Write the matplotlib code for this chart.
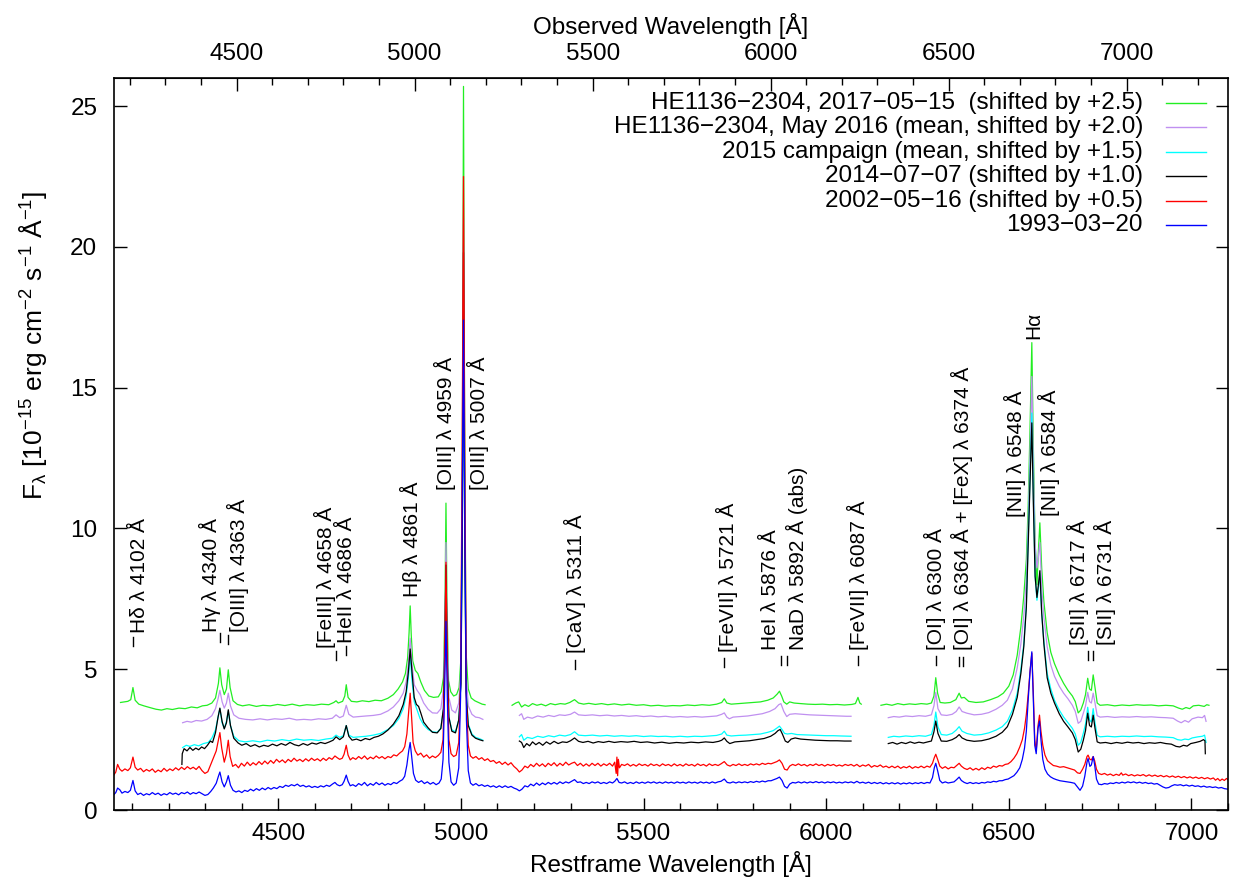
import numpy as np
import matplotlib
matplotlib.use("Agg")
import matplotlib.pyplot as plt
from matplotlib.ticker import MultipleLocator, FixedLocator

plt.rcParams['font.family'] = ['Liberation Sans', 'DejaVu Sans']
plt.rcParams['mathtext.fontset'] = 'custom'
plt.rcParams['mathtext.rm'] = 'Liberation Sans'
plt.rcParams['mathtext.it'] = 'Liberation Sans:italic'
plt.rcParams['mathtext.bf'] = 'Liberation Sans:bold'

# redshift of HE1136-2304, used for the observed-frame axis on top
z = 0.026

# spectra as (restframe wavelength [A], flux + offset) pairs, one list per continuous piece
green_a = [(4068, 3.82), (4078, 3.84), (4088, 3.86), (4096, 3.92), (4102, 4.35), (4108, 3.90), (4118, 3.76),
           (4132, 3.70), (4148, 3.64), (4165, 3.58), (4180, 3.55), (4195, 3.60), (4210, 3.57), (4228, 3.62),
           (4245, 3.60), (4262, 3.66), (4278, 3.63), (4292, 3.70), (4305, 3.72), (4318, 3.80), (4328, 3.98),
           (4336, 4.50), (4340, 5.05), (4345, 4.45), (4352, 4.10), (4358, 4.30), (4363, 4.98), (4368, 4.35),
           (4376, 3.88), (4388, 3.75), (4402, 3.70), (4420, 3.74), (4440, 3.68), (4458, 3.72), (4478, 3.70),
           (4498, 3.75), (4518, 3.71), (4538, 3.76), (4558, 3.70), (4578, 3.74), (4598, 3.72), (4618, 3.76),
           (4638, 3.74), (4652, 3.82), (4658, 3.88), (4664, 3.80), (4676, 3.86), (4682, 4.05), (4686, 4.45),
           (4691, 4.00), (4700, 3.86), (4715, 3.84), (4730, 3.88), (4748, 3.85), (4765, 3.90), (4782, 3.88),
           (4800, 3.97), (4815, 4.10), (4828, 4.30), (4840, 4.55), (4848, 4.85), (4854, 5.40), (4858, 6.30),
           (4861, 7.25), (4864, 6.20), (4868, 5.30), (4875, 4.96), (4882, 4.85), (4890, 4.55), (4900, 4.25),
           (4912, 4.05), (4925, 4.00), (4938, 4.02), (4946, 4.20), (4952, 4.70), (4956, 7.00), (4959, 10.9),
           (4962, 7.20), (4966, 4.60), (4972, 4.20), (4980, 4.05), (4988, 4.10), (4995, 4.35), (5000, 5.40),
           (5004, 12.5), (5007, 25.7), (5010, 14.0), (5014, 5.60), (5020, 4.30), (5028, 3.98), (5038, 3.88),
           (5048, 3.82), (5058, 3.76), (5066, 3.74)]
green_b = [(5140, 3.72), (5150, 3.80), (5158, 3.84), (5166, 3.66), (5175, 3.74), (5185, 3.68), (5196, 3.78),
           (5208, 3.72), (5220, 3.76), (5232, 3.70), (5245, 3.78), (5258, 3.74), (5272, 3.78), (5285, 3.76),
           (5298, 3.82), (5311, 3.92), (5322, 3.80), (5336, 3.76), (5350, 3.79), (5368, 3.75), (5385, 3.78),
           (5402, 3.74), (5420, 3.77), (5440, 3.73), (5460, 3.76), (5480, 3.72), (5500, 3.74), (5520, 3.70),
           (5540, 3.72), (5560, 3.69), (5580, 3.71), (5600, 3.70), (5620, 3.73), (5640, 3.71), (5660, 3.74),
           (5680, 3.72), (5700, 3.76), (5714, 3.82), (5721, 3.95), (5728, 3.80), (5740, 3.76), (5760, 3.78),
           (5780, 3.80), (5800, 3.82), (5820, 3.84), (5840, 3.90), (5855, 3.98), (5866, 4.12), (5872, 4.22),
           (5878, 4.05), (5884, 3.84), (5892, 3.76), (5900, 3.84), (5912, 3.80), (5930, 3.78), (5950, 3.76),
           (5970, 3.75), (5990, 3.76), (6010, 3.74), (6030, 3.75), (6050, 3.73), (6070, 3.75), (6080, 3.78),
           (6087, 4.00), (6092, 3.80), (6096, 3.76)]
green_c = [(6150, 3.72), (6165, 3.76), (6180, 3.72), (6196, 3.78), (6212, 3.74), (6228, 3.77), (6244, 3.75),
           (6260, 3.78), (6276, 3.76), (6288, 3.80), (6295, 4.05), (6300, 4.70), (6305, 4.15), (6312, 3.82),
           (6325, 3.80), (6340, 3.82), (6355, 3.92), (6364, 4.15), (6370, 3.98), (6378, 4.00), (6390, 3.86),
           (6410, 3.82), (6430, 3.84), (6450, 3.92), (6470, 4.02), (6485, 4.15), (6500, 4.40), (6512, 4.80),
           (6523, 5.50), (6533, 6.50), (6541, 7.60), (6548, 8.90), (6553, 10.8), (6558, 13.5), (6563, 16.6),
           (6567, 13.0), (6572, 9.50), (6577, 8.00), (6581, 9.20), (6585, 10.2), (6590, 8.60), (6596, 7.40),
           (6605, 6.30), (6615, 5.60), (6625, 5.20), (6638, 4.80), (6650, 4.50), (6662, 4.25), (6674, 4.05),
           (6682, 3.85), (6690, 3.45), (6697, 3.55), (6704, 3.80), (6710, 4.10), (6716, 4.68), (6721, 4.30),
           (6726, 4.25), (6731, 4.80), (6736, 4.35), (6742, 3.80), (6750, 3.72), (6770, 3.74), (6790, 3.70),
           (6810, 3.73), (6830, 3.71), (6850, 3.74), (6870, 3.72), (6890, 3.73), (6910, 3.70), (6930, 3.72),
           (6950, 3.70), (6965, 3.62), (6975, 3.58), (6985, 3.64), (6995, 3.60), (7005, 3.70), (7020, 3.72),
           (7035, 3.68), (7042, 3.74), (7048, 3.72)]

purple_a = [(4238, 3.10), (4250, 3.15), (4262, 3.12), (4275, 3.18), (4290, 3.16), (4305, 3.22), (4318, 3.35),
            (4328, 3.60), (4335, 3.95), (4340, 4.25), (4346, 3.85), (4352, 3.62), (4358, 3.80), (4363, 4.15),
            (4369, 3.70), (4378, 3.38), (4392, 3.26), (4410, 3.22), (4430, 3.20), (4450, 3.24), (4470, 3.20),
            (4490, 3.24), (4510, 3.22), (4530, 3.26), (4550, 3.20), (4570, 3.22), (4590, 3.20), (4610, 3.24),
            (4630, 3.22), (4648, 3.26), (4658, 3.38), (4668, 3.28), (4678, 3.34), (4686, 3.72), (4693, 3.40),
            (4705, 3.30), (4722, 3.32), (4740, 3.34), (4760, 3.36), (4780, 3.40), (4800, 3.52), (4815, 3.66),
            (4830, 3.88), (4842, 4.15), (4850, 4.55), (4856, 5.20), (4861, 6.10), (4866, 5.20), (4872, 4.45),
            (4880, 4.25), (4888, 4.10), (4898, 3.80), (4910, 3.58), (4922, 3.45), (4935, 3.44), (4945, 3.60),
            (4952, 4.30), (4956, 6.40), (4959, 9.50), (4962, 6.30), (4967, 4.00), (4975, 3.55), (4985, 3.45),
            (4994, 3.80), (5000, 5.00), (5004, 11.0), (5007, 21.0), (5010, 11.5), (5014, 4.90), (5020, 3.70),
            (5030, 3.40), (5040, 3.30), (5050, 3.28), (5060, 3.22)]
purple_b = [(5160, 3.36), (5166, 3.42), (5172, 3.22), (5182, 3.30), (5195, 3.26), (5210, 3.34), (5225, 3.30),
            (5240, 3.36), (5255, 3.32), (5270, 3.38), (5285, 3.36), (5300, 3.40), (5311, 3.48), (5322, 3.38),
            (5340, 3.36), (5360, 3.38), (5380, 3.35), (5400, 3.37), (5420, 3.34), (5440, 3.36), (5460, 3.33),
            (5480, 3.35), (5500, 3.32), (5520, 3.34), (5540, 3.31), (5560, 3.33), (5580, 3.30), (5600, 3.32),
            (5620, 3.30), (5640, 3.32), (5660, 3.30), (5680, 3.32), (5700, 3.34), (5714, 3.40), (5721, 3.45),
            (5728, 3.30), (5735, 3.24), (5745, 3.30), (5765, 3.32), (5785, 3.34), (5805, 3.38), (5825, 3.42),
            (5845, 3.50), (5860, 3.60), (5870, 3.74), (5876, 3.78), (5884, 3.50), (5892, 3.32), (5900, 3.40),
            (5915, 3.42), (5935, 3.40), (5955, 3.38), (5975, 3.37), (5995, 3.36), (6015, 3.35), (6035, 3.34),
            (6055, 3.33), (6068, 3.33)]
purple_c = [(6170, 3.28), (6185, 3.32), (6200, 3.30), (6218, 3.34), (6236, 3.32), (6254, 3.35), (6272, 3.33),
            (6288, 3.38), (6295, 3.70), (6300, 4.18), (6306, 3.60), (6315, 3.38), (6330, 3.36), (6345, 3.40),
            (6356, 3.50), (6364, 3.66), (6372, 3.50), (6385, 3.44), (6405, 3.38), (6425, 3.40), (6445, 3.46),
            (6465, 3.58), (6482, 3.72), (6496, 3.90), (6510, 4.30), (6523, 5.05), (6533, 5.90), (6541, 6.90),
            (6548, 8.20), (6553, 10.2), (6558, 12.6), (6563, 15.4), (6567, 12.3), (6572, 9.40), (6577, 8.60),
            (6581, 9.00), (6585, 9.50), (6590, 7.90), (6596, 6.85), (6605, 5.80), (6615, 5.15), (6625, 4.75),
            (6638, 4.40), (6650, 4.15), (6662, 3.95), (6674, 3.72), (6682, 3.50), (6690, 3.08), (6697, 3.15),
            (6704, 3.44), (6710, 3.70), (6716, 4.18), (6721, 3.85), (6726, 3.80), (6731, 4.15), (6736, 3.80),
            (6742, 3.35), (6750, 3.30), (6770, 3.32), (6790, 3.29), (6810, 3.31), (6830, 3.30), (6850, 3.32),
            (6870, 3.30), (6890, 3.31), (6910, 3.29), (6930, 3.28), (6950, 3.26), (6962, 3.16), (6972, 3.10),
            (6982, 3.18), (6992, 3.12), (7002, 3.24), (7018, 3.30), (7030, 3.28), (7036, 3.36), (7040, 3.15)]

cyan_a = [(4238, 2.22), (4248, 2.30), (4258, 2.26), (4270, 2.32), (4282, 2.28), (4295, 2.36), (4308, 2.40),
          (4318, 2.55), (4328, 2.85), (4335, 3.30), (4340, 3.60), (4346, 3.10), (4352, 2.90), (4358, 3.15),
          (4363, 3.50), (4369, 3.00), (4378, 2.62), (4392, 2.46), (4410, 2.42), (4430, 2.46), (4450, 2.42),
          (4470, 2.48), (4490, 2.45), (4510, 2.50), (4530, 2.46), (4550, 2.52), (4570, 2.48), (4590, 2.50),
          (4610, 2.47), (4630, 2.52), (4648, 2.55), (4658, 2.66), (4668, 2.58), (4678, 2.64), (4686, 3.00),
          (4693, 2.66), (4705, 2.58), (4722, 2.60), (4740, 2.62), (4760, 2.66), (4780, 2.72), (4800, 2.86),
          (4815, 3.00), (4830, 3.25), (4842, 3.60), (4850, 4.05), (4856, 4.70), (4861, 5.50), (4866, 4.60),
          (4872, 3.85), (4880, 3.55), (4888, 3.25), (4898, 3.02), (4910, 2.86), (4922, 2.78), (4935, 2.76),
          (4945, 2.90), (4952, 3.60), (4956, 5.80), (4959, 8.60), (4962, 5.60), (4967, 3.30), (4975, 2.85),
          (4985, 2.78), (4994, 3.20), (5000, 4.50), (5004, 10.5), (5007, 20.0), (5010, 10.8), (5014, 4.30),
          (5020, 3.05), (5030, 2.70), (5040, 2.58), (5050, 2.54), (5060, 2.48)]
cyan_b = [(5160, 2.60), (5166, 2.68), (5172, 2.48), (5182, 2.58), (5195, 2.54), (5210, 2.62), (5225, 2.58),
          (5240, 2.64), (5255, 2.60), (5270, 2.66), (5285, 2.63), (5300, 2.68), (5311, 2.78), (5322, 2.66),
          (5340, 2.64), (5360, 2.66), (5380, 2.63), (5400, 2.65), (5420, 2.62), (5440, 2.64), (5460, 2.62),
          (5480, 2.64), (5500, 2.61), (5520, 2.63), (5540, 2.61), (5560, 2.62), (5580, 2.60), (5600, 2.62),
          (5620, 2.60), (5640, 2.62), (5660, 2.61), (5680, 2.63), (5700, 2.65), (5714, 2.70), (5721, 2.80),
          (5728, 2.66), (5740, 2.63), (5760, 2.65), (5780, 2.66), (5800, 2.68), (5820, 2.70), (5840, 2.76),
          (5855, 2.82), (5866, 2.92), (5872, 2.98), (5878, 2.88), (5886, 2.72), (5894, 2.70), (5905, 2.72),
          (5920, 2.68), (5940, 2.67), (5960, 2.66), (5980, 2.65), (6000, 2.64), (6020, 2.64), (6040, 2.63),
          (6068, 2.62)]
cyan_c = [(6170, 2.58), (6185, 2.62), (6200, 2.60), (6218, 2.63), (6236, 2.61), (6254, 2.64), (6272, 2.62),
          (6288, 2.68), (6295, 3.00), (6300, 3.48), (6306, 2.95), (6315, 2.68), (6330, 2.66), (6345, 2.72),
          (6356, 2.84), (6364, 2.96), (6372, 2.80), (6385, 2.72), (6405, 2.66), (6425, 2.68), (6445, 2.74),
          (6465, 2.84), (6482, 2.96), (6496, 3.15), (6510, 3.55), (6523, 4.15), (6533, 5.00), (6541, 5.90),
          (6548, 7.30), (6553, 9.60), (6558, 11.8), (6563, 14.1), (6567, 11.3), (6572, 8.30), (6577, 7.45),
          (6581, 7.90), (6585, 8.40), (6590, 7.00), (6596, 6.00), (6605, 4.85), (6615, 4.30), (6625, 3.90),
          (6638, 3.55), (6650, 3.30), (6662, 3.10), (6674, 2.90), (6682, 2.70), (6690, 2.30), (6697, 2.40),
          (6704, 2.73), (6710, 3.05), (6716, 3.65), (6721, 3.20), (6726, 3.12), (6731, 3.60), (6736, 3.10),
          (6742, 2.65), (6750, 2.60), (6770, 2.62), (6790, 2.60), (6810, 2.62), (6830, 2.61), (6850, 2.63),
          (6870, 2.61), (6890, 2.62), (6910, 2.60), (6930, 2.59), (6950, 2.57), (6962, 2.50), (6972, 2.48),
          (6982, 2.52), (6992, 2.50), (7002, 2.56), (7018, 2.60), (7030, 2.62), (7036, 2.66), (7040, 2.40)]

black_a = [(4236, 1.62), (4237, 2.00), (4242, 2.18), (4250, 2.10), (4258, 2.22), (4266, 2.12), (4274, 2.20),
           (4282, 2.14), (4290, 2.24), (4298, 2.18), (4306, 2.30), (4314, 2.45), (4320, 2.40), (4328, 2.75),
           (4335, 3.30), (4340, 3.62), (4346, 3.15), (4352, 2.88), (4358, 3.10), (4363, 3.56), (4369, 3.00),
           (4378, 2.55), (4390, 2.38), (4400, 2.30), (4412, 2.36), (4424, 2.26), (4436, 2.32), (4448, 2.24),
           (4460, 2.30), (4472, 2.26), (4484, 2.34), (4496, 2.28), (4508, 2.36), (4520, 2.30), (4532, 2.40),
           (4544, 2.32), (4556, 2.28), (4568, 2.36), (4580, 2.30), (4592, 2.38), (4604, 2.34), (4616, 2.40),
           (4628, 2.36), (4640, 2.42), (4650, 2.48), (4658, 2.60), (4668, 2.50), (4678, 2.60), (4686, 3.00),
           (4693, 2.62), (4702, 2.48), (4714, 2.52), (4726, 2.46), (4738, 2.54), (4750, 2.50), (4762, 2.58),
           (4774, 2.62), (4786, 2.70), (4800, 2.84), (4815, 3.05), (4830, 3.35), (4842, 3.75), (4850, 4.20),
           (4856, 4.90), (4861, 5.72), (4866, 4.90), (4872, 4.00), (4878, 3.75), (4884, 3.68), (4890, 3.45),
           (4898, 3.12), (4910, 2.92), (4922, 2.76), (4935, 2.74), (4945, 2.90), (4952, 3.60), (4956, 5.80),
           (4959, 8.70), (4962, 5.60), (4967, 3.30), (4975, 2.80), (4985, 2.74), (4994, 3.20), (5000, 4.50),
           (5004, 10.3), (5007, 19.8), (5010, 10.6), (5014, 4.20), (5020, 3.00), (5030, 2.66), (5040, 2.55),
           (5050, 2.50), (5060, 2.46)]
black_b = [(5160, 2.45), (5166, 2.40), (5172, 2.22), (5180, 2.36), (5188, 2.28), (5196, 2.42), (5205, 2.32),
           (5214, 2.40), (5224, 2.30), (5234, 2.42), (5244, 2.34), (5255, 2.44), (5266, 2.36), (5278, 2.42),
           (5290, 2.40), (5300, 2.46), (5311, 2.56), (5322, 2.44), (5334, 2.40), (5348, 2.44), (5362, 2.38),
           (5376, 2.43), (5390, 2.40), (5405, 2.44), (5420, 2.40), (5438, 2.43), (5456, 2.41), (5474, 2.44),
           (5492, 2.40), (5510, 2.42), (5530, 2.38), (5550, 2.41), (5570, 2.37), (5590, 2.40), (5610, 2.38),
           (5630, 2.41), (5650, 2.39), (5670, 2.42), (5690, 2.40), (5706, 2.44), (5714, 2.48), (5721, 2.56),
           (5728, 2.44), (5736, 2.36), (5750, 2.42), (5770, 2.44), (5790, 2.46), (5810, 2.50), (5830, 2.54),
           (5848, 2.62), (5860, 2.72), (5868, 2.82), (5874, 2.86), (5880, 2.70), (5888, 2.45), (5895, 2.40),
           (5904, 2.52), (5915, 2.56), (5930, 2.52), (5950, 2.50), (5970, 2.48), (5990, 2.47), (6010, 2.46),
           (6030, 2.46), (6050, 2.45), (6068, 2.45)]
black_c = [(6170, 2.36), (6182, 2.40), (6194, 2.34), (6206, 2.40), (6218, 2.36), (6230, 2.42), (6242, 2.37),
           (6254, 2.41), (6266, 2.38), (6278, 2.42), (6288, 2.45), (6295, 2.78), (6300, 3.16), (6306, 2.72),
           (6315, 2.45), (6330, 2.44), (6345, 2.50), (6356, 2.58), (6364, 2.68), (6372, 2.56), (6385, 2.48),
           (6405, 2.44), (6425, 2.46), (6445, 2.52), (6465, 2.62), (6482, 2.76), (6496, 2.96), (6510, 3.40),
           (6523, 4.00), (6533, 4.85), (6541, 5.80), (6548, 7.20), (6553, 9.40), (6558, 11.6), (6563, 13.75),
           (6567, 11.0), (6572, 8.30), (6577, 7.55), (6581, 8.00), (6585, 8.50), (6590, 7.00), (6596, 5.90),
           (6605, 4.70), (6615, 4.15), (6625, 3.80), (6638, 3.42), (6650, 3.15), (6662, 2.95), (6674, 2.74),
           (6682, 2.50), (6690, 2.06), (6697, 2.16), (6704, 2.48), (6710, 2.82), (6716, 3.44), (6721, 3.00),
           (6726, 2.95), (6731, 3.37), (6736, 2.90), (6742, 2.42), (6750, 2.38), (6765, 2.40), (6780, 2.36),
           (6795, 2.40), (6810, 2.37), (6825, 2.41), (6840, 2.38), (6855, 2.40), (6870, 2.36), (6885, 2.39),
           (6900, 2.37), (6915, 2.40), (6930, 2.36), (6945, 2.34), (6958, 2.26), (6968, 2.24), (6978, 2.30),
           (6988, 2.27), (6998, 2.36), (7012, 2.40), (7024, 2.44), (7033, 2.50), (7037, 2.46), (7038, 2.00)]

red = [(4050, 1.25), (4055, 1.35), (4060, 1.62), (4066, 1.45), (4072, 1.38), (4080, 1.46), (4088, 1.40),
       (4095, 1.50), (4102, 1.88), (4108, 1.52), (4115, 1.42), (4123, 1.48), (4131, 1.36), (4139, 1.44),
       (4147, 1.38), (4155, 1.46), (4163, 1.34), (4171, 1.42), (4179, 1.36), (4187, 1.48), (4195, 1.38),
       (4203, 1.46), (4211, 1.40), (4219, 1.50), (4227, 1.42), (4235, 1.52), (4243, 1.44), (4251, 1.54),
       (4259, 1.46), (4267, 1.52), (4275, 1.44), (4283, 1.55), (4291, 1.40), (4299, 1.30), (4307, 1.36),
       (4315, 1.62), (4322, 1.85), (4330, 2.10), (4336, 2.50), (4340, 2.75), (4345, 2.20), (4352, 1.70),
       (4358, 2.00), (4363, 2.48), (4368, 1.90), (4375, 1.55), (4383, 1.62), (4391, 1.50), (4399, 1.66),
       (4407, 1.56), (4415, 1.70), (4423, 1.58), (4431, 1.68), (4439, 1.60), (4447, 1.72), (4455, 1.62),
       (4463, 1.74), (4471, 1.64), (4479, 1.76), (4487, 1.66), (4495, 1.80), (4503, 1.70), (4511, 1.78),
       (4519, 1.68), (4527, 1.80), (4535, 1.72), (4543, 1.84), (4551, 1.74), (4559, 1.80), (4567, 1.72),
       (4575, 1.82), (4583, 1.74), (4591, 1.84), (4599, 1.76), (4607, 1.82), (4615, 1.74), (4623, 1.84),
       (4631, 1.76), (4639, 1.86), (4647, 1.80), (4655, 1.92), (4661, 1.86), (4668, 1.80), (4675, 1.84),
       (4680, 1.98), (4686, 2.30), (4691, 1.95), (4697, 1.78), (4704, 1.86), (4712, 1.80), (4720, 1.90),
       (4728, 1.82), (4736, 1.92), (4744, 1.80), (4752, 1.88), (4760, 1.82), (4768, 1.92), (4776, 1.84),
       (4784, 1.90), (4792, 1.82), (4800, 1.90), (4808, 1.86), (4816, 1.96), (4824, 1.92), (4832, 2.02),
       (4840, 2.10), (4846, 2.25), (4852, 2.70), (4857, 3.50), (4861, 4.15), (4865, 3.30), (4869, 2.40),
       (4875, 2.10), (4882, 1.95), (4890, 2.02), (4898, 1.88), (4906, 1.96), (4914, 1.84), (4922, 1.92),
       (4930, 1.86), (4938, 1.94), (4945, 2.05), (4951, 2.50), (4955, 5.00), (4959, 8.80), (4963, 4.90),
       (4967, 2.50), (4973, 2.00), (4980, 1.90), (4987, 1.95), (4994, 2.40), (4999, 4.50), (5003, 12.0),
       (5007, 22.5), (5011, 11.0), (5015, 3.80), (5020, 2.30), (5026, 1.92), (5033, 1.84), (5041, 1.90),
       (5049, 1.80), (5057, 1.86), (5065, 1.76), (5073, 1.82), (5081, 1.72), (5089, 1.76), (5097, 1.66),
       (5105, 1.72), (5113, 1.62), (5121, 1.70), (5129, 1.60), (5137, 1.68), (5145, 1.55), (5153, 1.46),
       (5160, 1.35), (5167, 1.42), (5175, 1.56), (5183, 1.50), (5191, 1.62), (5199, 1.54), (5207, 1.66),
       (5215, 1.56), (5223, 1.64), (5231, 1.54), (5239, 1.66), (5247, 1.58), (5255, 1.68), (5263, 1.56),
       (5271, 1.66), (5279, 1.58), (5287, 1.70), (5295, 1.60), (5303, 1.66), (5311, 1.70), (5319, 1.58),
       (5327, 1.66), (5335, 1.56), (5343, 1.64), (5351, 1.56), (5359, 1.66), (5367, 1.58), (5375, 1.66),
       (5383, 1.56), (5391, 1.64), (5399, 1.58), (5407, 1.66), (5415, 1.56), (5421, 1.70), (5425, 1.30),
       (5427, 1.88), (5429, 1.22), (5431, 1.80), (5434, 1.50), (5440, 1.62), (5448, 1.58), (5456, 1.64),
       (5464, 1.56), (5472, 1.62), (5480, 1.56), (5488, 1.64), (5496, 1.58), (5504, 1.62), (5512, 1.56),
       (5520, 1.64), (5528, 1.58), (5536, 1.62), (5544, 1.56), (5552, 1.64), (5560, 1.58), (5568, 1.62),
       (5576, 1.56), (5584, 1.64), (5592, 1.57), (5600, 1.62), (5608, 1.56), (5616, 1.64), (5624, 1.58),
       (5632, 1.62), (5640, 1.56), (5648, 1.64), (5656, 1.58), (5664, 1.62), (5672, 1.56), (5680, 1.64),
       (5688, 1.58), (5696, 1.62), (5704, 1.58), (5712, 1.64), (5721, 1.72), (5729, 1.60), (5737, 1.56),
       (5745, 1.62), (5753, 1.58), (5761, 1.64), (5769, 1.58), (5777, 1.62), (5785, 1.58), (5793, 1.64),
       (5801, 1.60), (5809, 1.64), (5817, 1.60), (5825, 1.66), (5833, 1.62), (5841, 1.66), (5849, 1.64),
       (5857, 1.68), (5865, 1.72), (5872, 1.78), (5879, 1.66), (5886, 1.45), (5893, 1.42), (5900, 1.56),
       (5908, 1.62), (5916, 1.58), (5924, 1.64), (5932, 1.58), (5940, 1.62), (5948, 1.56), (5956, 1.62),
       (5964, 1.58), (5972, 1.64), (5980, 1.58), (5988, 1.62), (5996, 1.56), (6004, 1.62), (6012, 1.58),
       (6020, 1.62), (6028, 1.56), (6036, 1.60), (6044, 1.56), (6052, 1.62), (6060, 1.58), (6068, 1.62),
       (6076, 1.56), (6084, 1.62), (6092, 1.54), (6100, 1.60), (6108, 1.56), (6116, 1.62), (6124, 1.52),
       (6132, 1.58), (6140, 1.54), (6148, 1.60), (6156, 1.52), (6164, 1.56), (6172, 1.50), (6180, 1.56),
       (6188, 1.50), (6196, 1.56), (6204, 1.48), (6212, 1.54), (6220, 1.50), (6228, 1.56), (6236, 1.48),
       (6244, 1.54), (6252, 1.50), (6260, 1.56), (6268, 1.50), (6276, 1.56), (6284, 1.52), (6291, 1.66),
       (6296, 1.86), (6300, 1.98), (6305, 1.80), (6311, 1.56), (6318, 1.48), (6326, 1.54), (6334, 1.46),
       (6342, 1.52), (6350, 1.50), (6357, 1.58), (6364, 1.66), (6370, 1.56), (6378, 1.48), (6386, 1.44),
       (6394, 1.50), (6402, 1.42), (6410, 1.48), (6418, 1.42), (6426, 1.50), (6434, 1.44), (6442, 1.52),
       (6450, 1.48), (6458, 1.56), (6466, 1.52), (6474, 1.58), (6482, 1.56), (6490, 1.62), (6498, 1.64),
       (6506, 1.72), (6514, 1.84), (6522, 2.00), (6530, 2.24), (6537, 2.50), (6543, 2.90), (6548, 3.40),
       (6553, 4.10), (6558, 4.90), (6563, 5.57), (6567, 4.20), (6571, 2.50), (6575, 2.10), (6580, 3.00),
       (6584, 3.37), (6588, 2.80), (6593, 2.30), (6599, 1.95), (6606, 1.75), (6614, 1.66), (6622, 1.58),
       (6630, 1.56), (6640, 1.52), (6650, 1.54), (6660, 1.50), (6670, 1.46), (6680, 1.42), (6688, 1.32),
       (6695, 1.30), (6702, 1.45), (6708, 1.62), (6714, 1.90), (6717, 1.95), (6722, 1.80), (6726, 1.78),
       (6731, 1.90), (6735, 1.75), (6740, 1.45), (6746, 1.30), (6754, 1.26), (6762, 1.30), (6770, 1.24),
       (6778, 1.28), (6786, 1.22), (6794, 1.27), (6802, 1.23), (6808, 1.32), (6812, 1.24), (6820, 1.28),
       (6828, 1.22), (6836, 1.26), (6844, 1.21), (6852, 1.25), (6860, 1.22), (6868, 1.26), (6876, 1.20),
       (6884, 1.25), (6892, 1.20), (6900, 1.24), (6908, 1.19), (6916, 1.23), (6924, 1.18), (6932, 1.22),
       (6940, 1.17), (6948, 1.21), (6956, 1.16), (6964, 1.20), (6972, 1.15), (6980, 1.19), (6988, 1.14),
       (6996, 1.18), (7004, 1.13), (7012, 1.17), (7020, 1.12), (7028, 1.16), (7036, 1.11), (7044, 1.15),
       (7052, 1.10), (7060, 1.14), (7066, 1.06), (7072, 1.12), (7078, 1.04), (7084, 1.10), (7090, 1.05),
       (7096, 1.12), (7100, 1.08)]

blue = [(4050, 0.55), (4055, 0.62), (4060, 0.78), (4066, 0.72), (4072, 0.60), (4080, 0.66), (4088, 0.62),
        (4095, 0.70), (4102, 1.05), (4108, 0.68), (4115, 0.55), (4123, 0.60), (4131, 0.52), (4139, 0.58),
        (4147, 0.54), (4155, 0.62), (4163, 0.55), (4171, 0.60), (4179, 0.52), (4187, 0.58), (4195, 0.54),
        (4203, 0.62), (4211, 0.56), (4219, 0.60), (4227, 0.54), (4235, 0.62), (4243, 0.58), (4251, 0.64),
        (4259, 0.56), (4267, 0.62), (4275, 0.58), (4283, 0.64), (4291, 0.58), (4299, 0.52), (4307, 0.55),
        (4315, 0.66), (4322, 0.78), (4330, 0.95), (4336, 1.20), (4340, 1.35), (4346, 1.00), (4352, 0.82),
        (4358, 1.00), (4363, 1.22), (4369, 0.88), (4376, 0.70), (4384, 0.64), (4392, 0.68), (4400, 0.62),
        (4408, 0.70), (4416, 0.66), (4424, 0.74), (4432, 0.68), (4440, 0.76), (4448, 0.70), (4456, 0.78),
        (4464, 0.72), (4472, 0.80), (4480, 0.74), (4488, 0.80), (4496, 0.76), (4504, 0.84), (4512, 0.80),
        (4520, 0.88), (4528, 0.84), (4536, 0.90), (4544, 0.86), (4552, 0.92), (4560, 0.84), (4568, 0.88),
        (4576, 0.82), (4584, 0.86), (4592, 0.80), (4600, 0.84), (4608, 0.80), (4616, 0.86), (4624, 0.82),
        (4632, 0.88), (4640, 0.84), (4648, 0.92), (4655, 0.98), (4661, 0.90), (4668, 0.86), (4675, 0.90),
        (4680, 1.02), (4686, 1.24), (4691, 1.02), (4697, 0.86), (4704, 0.90), (4712, 0.84), (4720, 0.94),
        (4728, 0.88), (4736, 0.98), (4744, 0.86), (4752, 0.94), (4760, 0.88), (4768, 0.98), (4776, 0.90),
        (4784, 0.96), (4792, 0.88), (4800, 0.94), (4808, 0.90), (4816, 0.98), (4824, 0.94), (4832, 1.02),
        (4840, 1.08), (4846, 1.20), (4852, 1.60), (4857, 2.10), (4861, 2.40), (4865, 1.90), (4870, 1.30),
        (4876, 1.06), (4884, 0.98), (4892, 1.04), (4900, 0.94), (4908, 1.00), (4916, 0.92), (4924, 0.98),
        (4932, 0.90), (4940, 0.96), (4946, 1.10), (4951, 1.80), (4955, 4.00), (4959, 6.70), (4963, 3.80),
        (4967, 1.70), (4973, 1.00), (4980, 0.88), (4987, 0.96), (4994, 1.50), (4999, 4.00), (5003, 10.0),
        (5007, 17.4), (5011, 9.50), (5015, 3.20), (5020, 1.40), (5026, 0.96), (5033, 0.88), (5041, 0.94),
        (5049, 0.86), (5057, 0.90), (5065, 0.84), (5073, 0.88), (5081, 0.82), (5089, 0.86), (5097, 0.80),
        (5105, 0.86), (5113, 0.80), (5121, 0.86), (5129, 0.80), (5137, 0.84), (5145, 0.78), (5153, 0.74),
        (5160, 0.68), (5167, 0.74), (5175, 0.86), (5183, 0.82), (5191, 0.92), (5199, 0.86), (5207, 0.96),
        (5215, 0.88), (5223, 0.96), (5231, 0.90), (5239, 0.98), (5247, 0.92), (5255, 0.98), (5263, 0.92),
        (5271, 1.00), (5279, 0.94), (5287, 1.00), (5295, 0.96), (5303, 1.02), (5311, 1.08), (5319, 0.98),
        (5327, 1.00), (5335, 0.94), (5343, 0.98), (5351, 0.94), (5359, 1.00), (5367, 0.96), (5375, 1.00),
        (5383, 0.94), (5391, 0.98), (5399, 0.94), (5407, 1.00), (5415, 0.96), (5421, 1.02), (5427, 1.12),
        (5433, 0.98), (5440, 0.96), (5448, 1.00), (5456, 0.94), (5464, 0.98), (5472, 0.94), (5480, 1.00),
        (5488, 0.95), (5496, 0.99), (5504, 0.95), (5512, 1.00), (5520, 0.96), (5528, 1.00), (5536, 0.95),
        (5544, 0.99), (5552, 0.95), (5560, 1.00), (5568, 0.96), (5576, 0.99), (5584, 0.95), (5592, 1.00),
        (5600, 0.96), (5608, 0.99), (5616, 0.95), (5624, 1.00), (5632, 0.96), (5640, 0.99), (5648, 0.95),
        (5656, 1.00), (5664, 0.96), (5672, 0.99), (5680, 0.95), (5688, 1.00), (5696, 0.96), (5704, 1.00),
        (5712, 1.02), (5721, 1.10), (5729, 0.98), (5737, 0.96), (5745, 1.00), (5753, 0.96), (5761, 1.00),
        (5769, 0.97), (5777, 1.00), (5785, 0.97), (5793, 1.01), (5801, 0.98), (5809, 1.02), (5817, 0.99),
        (5825, 1.03), (5833, 1.00), (5841, 1.04), (5849, 1.04), (5857, 1.08), (5865, 1.12), (5872, 1.17),
        (5879, 1.05), (5886, 0.84), (5893, 0.78), (5900, 0.92), (5908, 0.98), (5916, 0.96), (5924, 1.00),
        (5932, 0.96), (5940, 1.00), (5948, 0.96), (5956, 1.00), (5964, 0.97), (5972, 1.01), (5980, 0.97),
        (5988, 1.00), (5996, 0.96), (6004, 1.00), (6012, 0.97), (6020, 1.00), (6028, 0.96), (6036, 0.99),
        (6044, 0.96), (6052, 1.00), (6060, 0.97), (6068, 1.00), (6076, 0.96), (6084, 1.02), (6092, 0.96),
        (6100, 0.99), (6108, 0.95), (6116, 0.99), (6124, 0.94), (6132, 0.98), (6140, 0.94), (6148, 0.98),
        (6156, 0.93), (6164, 0.97), (6172, 0.93), (6180, 0.97), (6188, 0.93), (6196, 0.97), (6204, 0.92),
        (6212, 0.96), (6220, 0.93), (6228, 0.97), (6236, 0.93), (6244, 0.97), (6252, 0.94), (6260, 0.98),
        (6268, 0.94), (6276, 0.98), (6284, 0.96), (6291, 1.15), (6296, 1.50), (6300, 1.66), (6305, 1.40),
        (6311, 1.05), (6318, 0.96), (6326, 1.00), (6334, 0.96), (6342, 0.98), (6350, 1.00), (6357, 1.08),
        (6364, 1.17), (6370, 1.05), (6378, 0.98), (6386, 0.94), (6394, 0.98), (6402, 0.94), (6410, 0.97),
        (6418, 0.94), (6426, 0.98), (6434, 0.96), (6442, 1.00), (6450, 0.98), (6458, 1.02), (6466, 1.00),
        (6474, 1.04), (6482, 1.04), (6490, 1.08), (6498, 1.10), (6506, 1.16), (6514, 1.22), (6522, 1.34),
        (6530, 1.50), (6537, 1.80), (6543, 2.20), (6548, 2.80), (6553, 3.90), (6558, 4.90), (6563, 5.62),
        (6567, 4.00), (6571, 2.30), (6575, 2.00), (6580, 2.90), (6584, 3.16), (6588, 2.50), (6593, 1.80),
        (6599, 1.45), (6606, 1.28), (6614, 1.18), (6622, 1.12), (6630, 1.08), (6640, 1.04), (6650, 1.02),
        (6660, 1.00), (6670, 0.98), (6680, 0.95), (6688, 0.82), (6695, 0.70), (6702, 0.85), (6708, 1.20),
        (6714, 1.70), (6717, 1.83), (6722, 1.55), (6726, 1.60), (6731, 1.90), (6735, 1.60), (6740, 1.10),
        (6746, 0.92), (6754, 0.90), (6762, 0.94), (6770, 0.92), (6778, 0.96), (6786, 0.94), (6794, 0.98),
        (6802, 0.95), (6810, 0.99), (6818, 0.96), (6826, 1.00), (6834, 0.97), (6842, 1.00), (6850, 0.96),
        (6858, 0.99), (6866, 0.95), (6874, 0.98), (6882, 0.94), (6890, 0.96), (6898, 0.92), (6906, 0.94),
        (6914, 0.88), (6922, 0.82), (6930, 0.78), (6938, 0.80), (6946, 0.86), (6954, 0.90), (6962, 0.88),
        (6970, 0.90), (6978, 0.86), (6986, 0.89), (6994, 0.85), (7002, 0.88), (7010, 0.84), (7018, 0.86),
        (7026, 0.82), (7034, 0.85), (7042, 0.81), (7050, 0.83), (7058, 0.80), (7066, 0.82), (7074, 0.78),
        (7082, 0.80), (7090, 0.76), (7100, 0.74)]

series_labels = ["HE1136\u22122304, 2017\u221205\u221215  (shifted by +2.5)",
                 "HE1136\u22122304, May 2016 (mean, shifted by +2.0)",
                 "2015 campaign (mean, shifted by +1.5)",
                 "2014\u221207\u221207 (shifted by +1.0)",
                 "2002\u221205\u221216 (shifted by +0.5)",
                 "1993\u221203\u221220"]
series_colors = ["#22ee22", "#c090f0", "#00ffff", "#000000", "#ff0000", "#0000ff"]
series_pieces = [[green_a, green_b, green_c], [purple_a, purple_b, purple_c], [cyan_a, cyan_b, cyan_c],
                 [black_a, black_b, black_c], [red], [blue]]

# emission line annotations: text, x (restframe A), bottom of the text (flux)
line_labels = [("Hδ λ 4102 Å", 4120, 6.28), ("Hγ λ 4340 Å", 4312, 6.31), ("[OIII] λ 4363 Å", 4389, 6.31),
               ("[FeIII] λ 4658 Å", 4627, 5.74), ("HeII λ 4686 Å", 4688, 5.92), ("Hβ λ 4861 Å", 4863, 7.55),
               ("[OIII] λ 4959 Å", 4956, 11.35), ("[OIII] λ 5007 Å", 5047, 11.35),
               ("[CaV] λ 5311 Å", 5312, 5.57), ("[FeVII] λ 5721 Å", 5729, 5.60), ("HeI λ 5876 Å", 5847, 5.67),
               ("NaD λ 5892 Å (abs)", 5921, 5.67), ("[FeVII] λ 6087 Å", 6088, 5.67),
               ("[OI] λ 6300 Å", 6299, 5.67), ("[OI] λ 6364 Å + [FeX] λ 6374 Å", 6373, 5.67),
               ("Hα", 6567, 16.74), ("[NII] λ 6548 Å", 6518, 10.39), ("[NII] λ 6584 Å", 6611, 10.46),
               ("[SII] λ 6717 Å", 6688, 5.85), ("[SII] λ 6731 Å", 6764, 5.85)]
# small tick marks at the line wavelengths
mark_wl = [4102, 4340, 4363, 4658, 4686, 5311, 5721, 5876, 5892, 6087, 6300, 6364, 6374, 6717, 6731]
mark_y = [5.98, 6.12, 6.05, 5.48, 5.67, 5.18, 5.25, 5.30, 5.30, 5.30, 5.30, 5.28, 5.28, 5.50, 5.50]

FS = 17.5
FS_ROT = 15

fig = plt.figure(figsize=(12.36, 8.92), dpi=100)
ax = fig.add_axes([0.0922, 0.0919, 0.9013, 0.8207])

for label, color, pieces in zip(series_labels, series_colors, series_pieces):
    for i, piece in enumerate(pieces):
        wl, fx = np.array(piece).T
        ax.plot(wl, fx, color=color, lw=0.9, label=label if i == 0 else None)

# key drawn gnuplot style: right aligned text, sample line on the right
for i, (label, color) in enumerate(zip(series_labels, series_colors)):
    y = 0.9659 - i * 0.03335
    ax.text(0.9237, y, label, transform=ax.transAxes, ha='right', va='center', fontsize=FS)
    ax.plot([0.9443, 0.9803], [y, y], transform=ax.transAxes, color=color, lw=1)

for text, x, y in line_labels:
    ax.text(x, y, text, rotation=90, ha='center', va='bottom', fontsize=FS_ROT)
for x, y in zip(mark_wl, mark_y):
    ax.plot([x, x], [y - 0.16, y + 0.16], color='black', lw=1)

ax.set_xlim(4050, 7100)
ax.set_ylim(0, 26)
ax.xaxis.set_major_locator(MultipleLocator(500))
ax.xaxis.set_minor_locator(MultipleLocator(100))
ax.yaxis.set_major_locator(MultipleLocator(5))
ax.tick_params(which='both', direction='in', top=False, right=True, labelsize=FS, width=1)
ax.tick_params(which='major', length=9)
ax.tick_params(which='minor', length=5)
ax.tick_params(axis='x', pad=9)
ax.tick_params(axis='y', pad=12)
for s in ax.spines.values():
    s.set_linewidth(1.2)

ax.set_xlabel("Restframe Wavelength [Å]", fontsize=FS, labelpad=5)
ax.set_ylabel(r"F$_{\mathrm{λ}}$ [10$^{-15}$ erg cm$^{-2}$ s$^{-1}$ Å$^{-1}$]", fontsize=19)
ax.yaxis.set_label_coords(-0.058, 0.635)

top = ax.secondary_xaxis('top', functions=(lambda r: r * (1 + z), lambda o: o / (1 + z)))
top.xaxis.set_major_locator(FixedLocator([4500, 5000, 5500, 6000, 6500, 7000]))
top.xaxis.set_minor_locator(FixedLocator(np.arange(4200, 7300, 100)))
top.tick_params(which='both', direction='in', labelsize=FS, width=1, pad=9)
top.tick_params(which='major', length=9)
top.tick_params(which='minor', length=5)
top.set_xlabel("Observed Wavelength [Å]", fontsize=FS, labelpad=7)

fig.savefig("out.png", dpi=100)
